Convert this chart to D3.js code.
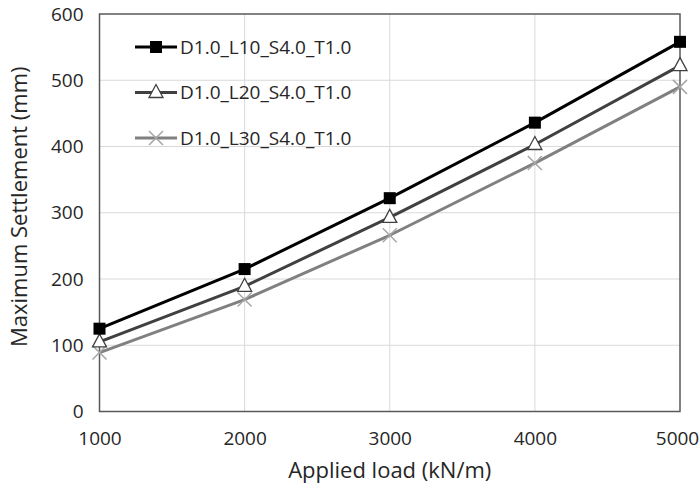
<!DOCTYPE html>
<html>
<head>
<meta charset="utf-8">
<script src="https://cdn.jsdelivr.net/npm/d3@7"></script>
<style>
  body { margin: 0; background: #fff; }
  svg text { font-family: "Open Sans", "Noto Sans", sans-serif; fill: #262626; }
  .tick text { font-size: 19px; }
</style>
</head>
<body>
<div id="chart"></div>
<script>
const loads = [1000, 2000, 3000, 4000, 5000];
const seriesNames = ["D1.0_L10_S4.0_T1.0", "D1.0_L20_S4.0_T1.0", "D1.0_L30_S4.0_T1.0"];
const settlementL10 = [125, 215, 322, 436, 558];
const settlementL20 = [105, 189, 293, 403, 522];
const settlementL30 = [89, 169, 266, 375, 490];
const xTicks = [1000, 2000, 3000, 4000, 5000];
const yTicks = [0, 100, 200, 300, 400, 500, 600];

const width = 700, height = 490;
const margin = {top: 14, right: 20, bottom: 78.5, left: 99.5};

const svg = d3.select("#chart").append("svg")
  .attr("width", width)
  .attr("height", height);

const x = d3.scaleLinear().domain([1000, 5000]).range([margin.left, width - margin.right]);
const y = d3.scaleLinear().domain([0, 600]).range([height - margin.bottom, margin.top]);

// gridlines
svg.append("g")
  .selectAll("line")
  .data(yTicks.slice(1, -1))
  .join("line")
  .attr("x1", x.range()[0]).attr("x2", x.range()[1])
  .attr("y1", d => y(d)).attr("y2", d => y(d))
  .attr("stroke", "#d9d9d9").attr("stroke-width", 1);

svg.append("g")
  .selectAll("line")
  .data(xTicks.slice(1, -1))
  .join("line")
  .attr("x1", d => x(d)).attr("x2", d => x(d))
  .attr("y1", y.range()[0]).attr("y2", y.range()[1])
  .attr("stroke", "#d9d9d9").attr("stroke-width", 1);

// frame
svg.append("rect")
  .attr("x", x.range()[0]).attr("y", y.range()[1])
  .attr("width", x.range()[1] - x.range()[0])
  .attr("height", y.range()[0] - y.range()[1])
  .attr("fill", "none").attr("stroke", "#595959").attr("stroke-width", 1.5);

// axes (labels only, the frame draws the lines)
const xAxis = svg.append("g")
  .attr("transform", `translate(0,${y.range()[0]})`)
  .call(d3.axisBottom(x).tickValues(xTicks).tickFormat(d3.format("d")).tickSize(0).tickPadding(20));
xAxis.select(".domain").remove();
xAxis.attr("font-size", 19).attr("font-family", null);
xAxis.selectAll("text").attr("fill", "#262626")
  .attr("dx", d => d === xTicks[xTicks.length - 1] ? -3 : 0); // keep the last label inside the page

const yAxis = svg.append("g")
  .attr("transform", `translate(${x.range()[0]},0)`)
  .call(d3.axisLeft(y).tickValues(yTicks).tickFormat(d3.format("d")).tickSize(0).tickPadding(16));
yAxis.select(".domain").remove();
yAxis.attr("font-size", 19).attr("font-family", null);
yAxis.selectAll("text").attr("fill", "#262626");

svg.append("text")
  .attr("x", (x.range()[0] + x.range()[1]) / 2)
  .attr("y", 478)
  .attr("text-anchor", "middle")
  .style("font-size", "22px")
  .text("Applied load (kN/m)");

svg.append("text")
  .attr("transform", `translate(27,${(y.range()[0] + y.range()[1]) / 2 - 6}) rotate(-90)`)
  .attr("text-anchor", "middle")
  .style("font-size", "22px")
  .text("Maximum Settlement (mm)");

const series = [
  {name: seriesNames[0], values: settlementL10, color: "#000000", marker: "square"},
  {name: seriesNames[1], values: settlementL20, color: "#404040", marker: "triangle"},
  {name: seriesNames[2], values: settlementL30, color: "#808080", marker: "cross"}
];

const line = d3.line().x(d => x(d[0])).y(d => y(d[1]));

function drawMarker(g, type, color) {
  if (type === "square") {
    g.append("rect").attr("x", -6).attr("y", -6).attr("width", 12).attr("height", 12)
      .attr("fill", "#000");
  } else if (type === "triangle") {
    g.append("path").attr("d", "M0,-8 L7,5 L-7,5 Z")
      .attr("fill", "#fff").attr("stroke", color).attr("stroke-width", 1.3);
  } else {
    g.append("path").attr("d", "M-7,-7 L7,7 M-7,7 L7,-7")
      .attr("stroke", "#a6a6a6").attr("stroke-width", 1.5).attr("fill", "none");
  }
}

// back to front so the black series ends on top
series.slice().reverse().forEach(s => {
  const pts = loads.map((l, i) => [l, s.values[i]]);
  svg.append("path")
    .datum(pts)
    .attr("d", line)
    .attr("fill", "none")
    .attr("stroke", s.color)
    .attr("stroke-width", 3)
    .attr("stroke-linejoin", "round");
  svg.append("g").selectAll("g")
    .data(pts)
    .join("g")
    .attr("transform", d => `translate(${x(d[0])},${y(d[1])})`)
    .each(function() { drawMarker(d3.select(this), s.marker, s.color); });
});

// legend
const legend = svg.append("g");
series.forEach((s, i) => {
  const row = legend.append("g").attr("transform", `translate(0,${47 + i * 45.5})`);
  row.append("line").attr("x1", 135).attr("x2", 177).attr("y1", 0).attr("y2", 0)
    .attr("stroke", s.color).attr("stroke-width", 3);
  drawMarker(row.append("g").attr("transform", "translate(156,0)"), s.marker, s.color);
  row.append("text").attr("x", 180).attr("y", 0).attr("dy", "0.35em")
    .style("font-size", "19px").text(s.name);
});
</script>
</body>
</html>
